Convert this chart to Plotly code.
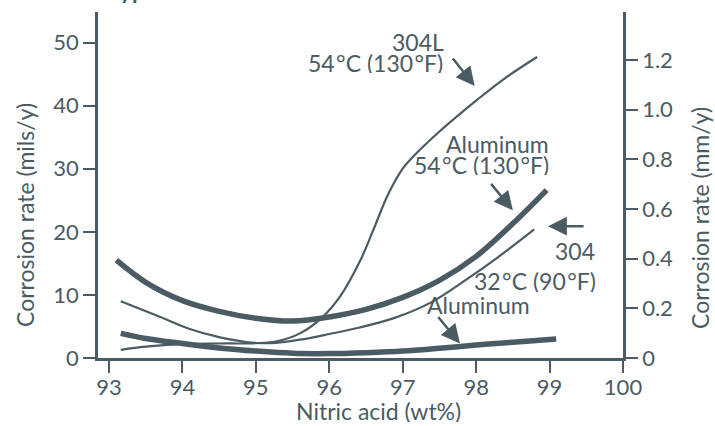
import plotly.graph_objects as go

# ---------------- data ----------------
x_al54 = [93.1, 93.5, 94.0, 94.5, 95.0, 95.5, 96.0, 96.5, 97.0, 97.5, 98.0, 98.5, 98.96]
al54 = [15.5, 12.0, 9.1, 7.4, 6.3, 5.85, 6.5, 7.7, 9.6, 12.3, 16.1, 21.3, 26.6]

x_304_32 = [93.16, 93.7, 94.1, 94.5, 94.9, 95.2, 95.6, 96.0, 96.4, 96.9, 97.4, 97.85, 98.3, 98.79]
s304_32 = [9.0, 6.5, 4.6, 3.3, 2.5, 2.35, 2.9, 3.8, 4.8, 6.4, 8.9, 12.3, 16.0, 20.4]

x_al32 = [93.16, 93.5, 94.0, 94.5, 95.0, 95.5, 96.0, 96.5, 97.0, 97.5, 98.0, 98.5, 99.09]
al32 = [3.9, 3.1, 2.3, 1.6, 1.1, 0.75, 0.7, 0.85, 1.1, 1.55, 2.05, 2.5, 3.0]

x_304L = [93.16, 93.5, 94.0, 94.5, 95.0, 95.3, 95.6, 95.9, 96.15, 96.42, 96.6, 96.8,
          97.0, 97.2, 97.5, 97.8, 98.0, 98.4, 98.83]
s304L = [1.3, 1.8, 2.2, 2.3, 2.35, 2.7, 3.9, 6.4, 9.8, 15.4, 20.3, 25.9,
         30.0, 32.6, 35.9, 38.9, 40.8, 44.4, 47.7]

x_ticks = [93, 94, 95, 96, 97, 98, 99, 100]
y_ticks = [0, 10, 20, 30, 40, 50]
y2_ticks = [0, 0.2, 0.4, 0.6, 0.8, 1.0, 1.2]
y2_labels = ["0", "0.2", "0.4", "0.6", "0.8", "1.0", "1.2"]
MILS_TO_MM = 0.0254

# ---------------- style ----------------
C = "#4b5b64"
FONT = "Lato"
W, H = 715, 426
L, R, T, B = 98, 92, 12, 68
PW, PH = W - L - R, H - T - B
HS = "\u200a"  # hair space between value and degree sign


def px(x):
    return (x - L) / PW


def py(y):
    return (H - B - y) / PH


fig = go.Figure()

for xs, ys, w in [(x_al54, al54, 5.5), (x_304_32, s304_32, 2.2),
                  (x_al32, al32, 5.5), (x_304L, s304L, 2.2)]:
    fig.add_trace(go.Scatter(x=xs, y=ys, mode="lines",
                             line=dict(color=C, width=w, shape="spline", smoothing=1.0),
                             showlegend=False, hoverinfo="skip"))

# invisible trace on the secondary (mm/y) axis
fig.add_trace(go.Scatter(x=x_al54, y=[v * MILS_TO_MM for v in al54], yaxis="y2",
                         mode="lines", line=dict(color="rgba(0,0,0,0)", width=0),
                         showlegend=False, hoverinfo="skip"))

ymax = 54.84
axis_common = dict(showline=True, linecolor=C, linewidth=2.5, ticks="outside",
                   ticklen=12, tickwidth=1.5, tickcolor=C, showgrid=False, zeroline=False,
                   tickfont=dict(family=FONT, size=22, color=C))

fig.update_layout(
    width=W, height=H,
    margin=dict(l=L, r=R, t=T, b=B, pad=0),
    paper_bgcolor="white", plot_bgcolor="white",
    font=dict(family=FONT, color=C, size=22),
    xaxis=dict(range=[92.85, 100], tickvals=x_ticks, ticklabelstandoff=-4, **axis_common),
    yaxis=dict(range=[0, ymax], tickvals=y_ticks, **axis_common),
    yaxis2=dict(range=[0, ymax * MILS_TO_MM], tickvals=y2_ticks, ticktext=y2_labels,
                overlaying="y", side="right", **axis_common),
)

ann_font = dict(family=FONT, size=23, color=C)
arrow = dict(showarrow=True, arrowhead=2, arrowsize=1.5, arrowwidth=2.5, arrowcolor=C,
             axref="pixel", ayref="pixel", text="")


def label(text, x, y, xanchor="center", yanchor="middle", angle=0, h=None):
    kw = dict(height=h) if h else {}
    fig.add_annotation(text=text, xref="paper", yref="paper", x=px(x), y=py(y),
                       xanchor=xanchor, yanchor=yanchor, showarrow=False,
                       textangle=angle, font=ann_font, **kw)


# clipped heading at the very top
label("<b>Typical</b>", 106, 6, xanchor="left", yanchor="bottom")

# axis titles
label("Nitric acid (wt%)", 378, 411, h=22)
label("Corrosion rate (mils/y)", 25, 215, angle=-90)
label("Corrosion rate (mm/y)", 700, 218, angle=-90)

# curve labels
label("304L", 446, 42, xanchor="right", h=20)
label(f"54{HS}°C (130{HS}°F)", 445, 63, xanchor="right", h=20)
label("Aluminum", 551, 144, xanchor="right", h=20)
label(f"54{HS}°C (130{HS}°F)", 551, 165, xanchor="right", h=20)
label("304", 597, 251, xanchor="right", h=22)
label(f"32{HS}°C (90{HS}°F)", 598, 281, xanchor="right", h=22)
label("Aluminum", 478, 305, h=22)

# arrows (head at the curve, tail offset in pixels)
fig.add_annotation(x=97.98, y=43.1, ax=-23, ay=-29, **arrow)
fig.add_annotation(x=98.50, y=23.4, ax=-23, ay=-28, **arrow)
fig.add_annotation(x=98.98, y=20.9, ax=37, ay=0, **arrow)
fig.add_annotation(x=97.78, y=2.3, ax=-23, ay=-28, **arrow)

fig.write_html("out.html")
